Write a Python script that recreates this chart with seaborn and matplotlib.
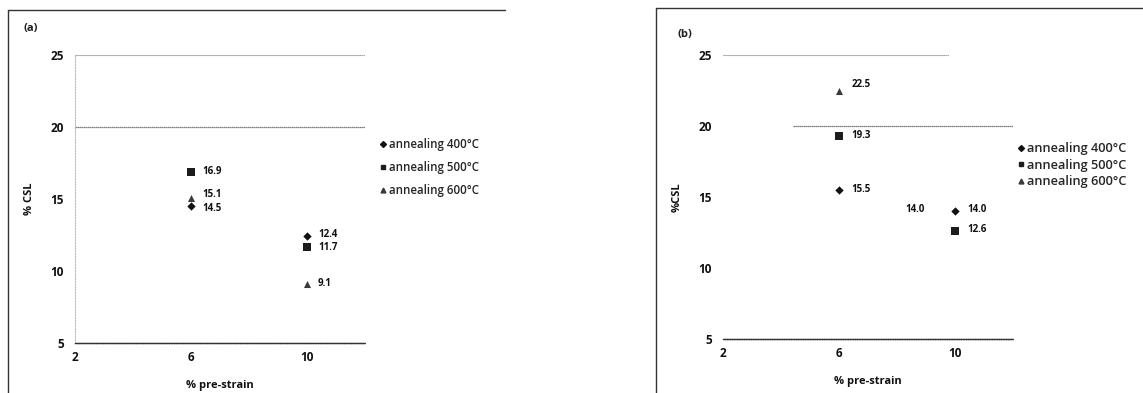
import matplotlib
matplotlib.use("Agg")
import matplotlib.pyplot as plt
from matplotlib.lines import Line2D
import seaborn as sns
import pandas as pd

# Panel (a): CSL fraction after pre-strain and annealing
strain_a = [6, 6, 6, 10, 10, 10]
temp_a = ["annealing 400°C", "annealing 500°C", "annealing 600°C",
          "annealing 400°C", "annealing 500°C", "annealing 600°C"]
csl_a = [14.5, 16.9, 15.1, 12.4, 11.7, 9.1]

# Panel (b)
strain_b = [6, 6, 6, 10, 10]
temp_b = ["annealing 400°C", "annealing 500°C", "annealing 600°C",
          "annealing 400°C", "annealing 500°C"]
csl_b = [15.5, 19.3, 22.5, 14.0, 12.6]

series = ["annealing 400°C", "annealing 500°C", "annealing 600°C"]
xticks = [2, 6, 10]
yticks = [5, 10, 15, 20, 25]

sns.set_theme(style="white")
plt.rcParams["font.family"] = ["Open Sans", "DejaVu Sans"]
plt.rcParams["font.weight"] = "bold"

markers = {series[0]: "D", series[1]: "s", series[2]: "^"}
palette = {series[0]: "#111111", series[1]: "#1c1c1c", series[2]: "#3a3a3a"}
sizes = {series[0]: 18, series[1]: 30, series[2]: 26}

W, H = 1143, 393
fig = plt.figure(figsize=(W / 100, H / 100), dpi=100)
fig.patch.set_facecolor("white")


def fx(px):
    return px / W


def fy(py):
    return 1 - py / H


ax_a = fig.add_axes([fx(75), fy(343), fx(365) - fx(75), fy(55) - fy(343)])
ax_b = fig.add_axes([fx(723), fy(339), fx(1013) - fx(723), fy(55) - fy(339)])


def draw_panel(ax, x, t, y, label_ylabel, legend_anchor, legend_spacing, legend_size,
               label_offsets):
    df = pd.DataFrame({"strain": x, "temp": t, "csl": y})
    for name in series:
        sub = df[df["temp"] == name]
        if sub.empty:
            continue
        sns.scatterplot(data=sub, x="strain", y="csl", ax=ax, marker=markers[name],
                        color=palette[name], s=sizes[name], linewidth=0, legend=False)
    for (xi, yi), (dx, dy) in zip(zip(x, y), label_offsets):
        ax.annotate(f"{yi:.1f}", (xi, yi), xytext=(dx, dy), textcoords="offset points",
                    ha="left", va="center", fontsize=7, fontweight="bold", color="#111111")
    ax.set_xlim(2, 12)
    ax.set_ylim(5, 25)
    ax.set_xticks(xticks)
    ax.set_yticks(yticks)
    ax.tick_params(axis="both", length=0, labelsize=8.5, colors="#111111")
    ax.tick_params(axis="y", pad=8)
    ax.tick_params(axis="x", pad=6)
    for lab in ax.get_xticklabels() + ax.get_yticklabels():
        lab.set_fontweight("bold")
    ax.set_xlabel("% pre-strain", fontsize=8, fontweight="bold", labelpad=11, color="#111111")
    ax.set_ylabel(label_ylabel, fontsize=8, fontweight="bold", labelpad=11, color="#111111")
    for side in ["top", "right"]:
        ax.spines[side].set_visible(False)
    ax.spines["bottom"].set_color("#333333")
    ax.spines["bottom"].set_linestyle((0, (1.2, 0.5)))
    ax.spines["bottom"].set_linewidth(1.0)
    ax.set_facecolor("none")

    handles = [Line2D([], [], marker=markers[n], linestyle="none", color=palette[n],
                      markersize=3.5 if n != series[0] else 3) for n in series]
    ax.legend(handles, series, loc="upper left", bbox_to_anchor=legend_anchor,
              bbox_transform=fig.transFigure, frameon=False,
              handletextpad=0.05, handlelength=0.9, labelspacing=legend_spacing,
              borderpad=0, borderaxespad=0, prop={"weight": "semibold", "size": legend_size})


draw_panel(ax_a, strain_a, temp_a, csl_a, "% CSL", (fx(378), fy(138)), 0.85, 8.3,
           [(8, -2), (8, 0), (8, 2.5), (8, 1.5), (8, -1), (8, 0)])
draw_panel(ax_b, strain_b, temp_b, csl_b, "%CSL", (fx(1015), fy(142)), 0.28, 9.2,
           [(9, 0), (9, 0), (9, 4), (9, 1), (9, 1)])

# panel (a): faint left axis and dotted gridlines
ax_a.spines["left"].set_color("#bbbbbb")
ax_a.spines["left"].set_linestyle((0, (1, 1.5)))
ax_a.spines["left"].set_linewidth(0.8)
ax_a.axhline(25, color="#777777", linestyle=(0, (1, 0.8)), linewidth=0.8)
ax_a.axhline(20, color="#555555", linestyle=(0, (1, 0.6)), linewidth=0.9)

# panel (b): no left axis line, gridlines at 25 and 20
ax_b.spines["left"].set_visible(False)
ax_b.axhline(25, xmin=0, xmax=0.78, color="#777777", linestyle=(0, (1, 0.8)), linewidth=0.8)
ax_b.axhline(20, xmin=0.24, xmax=1.0, color="#555555", linestyle=(0, (1, 0.6)), linewidth=0.9)
ax_b.annotate("14.0", (10, 14.0), xytext=(-36, 1), textcoords="offset points",
              ha="left", va="center", fontsize=7, fontweight="bold", color="#111111")

# panel captions
fig.text(fx(24), fy(28), "(a)", fontsize=8, fontweight="bold", color="#222222", va="center")
fig.text(fx(678), fy(34), "(b)", fontsize=8, fontweight="bold", color="#222222", va="center")

# panel frames
frame_kw = dict(transform=fig.transFigure, color="#333333", linewidth=1.0)
fig.add_artist(Line2D([fx(8), fx(8)], [fy(10), 0], **frame_kw))
fig.add_artist(Line2D([fx(8), fx(505)], [fy(10), fy(10)], **frame_kw))
fig.add_artist(Line2D([fx(656), fx(656)], [fy(8), 0], **frame_kw))
fig.add_artist(Line2D([fx(656), 1], [fy(8), fy(8)], **frame_kw))

fig.savefig("out.png", dpi=100, facecolor="white")
